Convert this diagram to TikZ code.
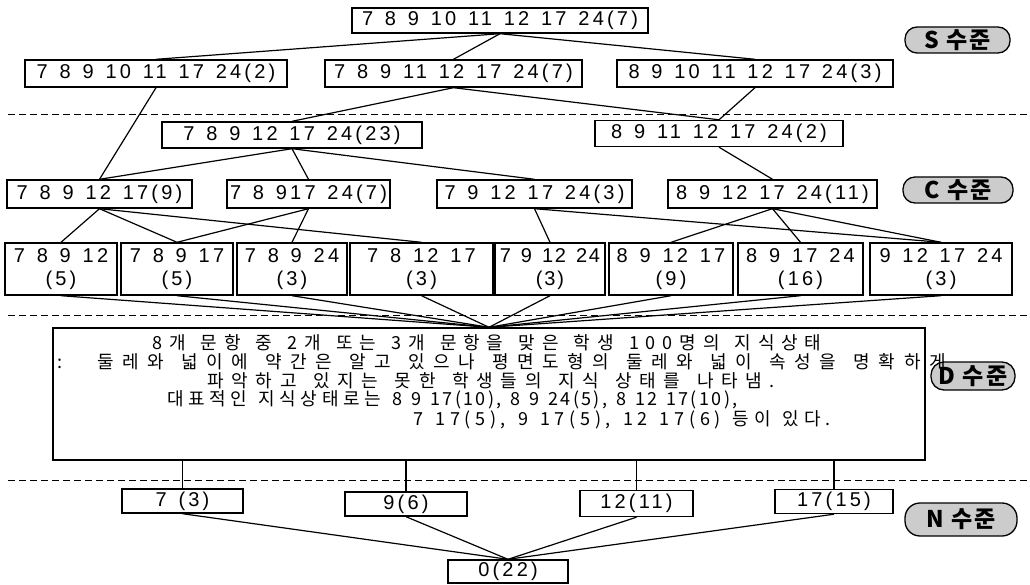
\documentclass[tikz,border=0pt]{standalone}
\usepackage{fontspec}
\setmainfont{Liberation Sans}
\newfontfamily\boxfont{Liberation Sans}[LetterSpace=16,WordSpace=1.35]
\newfontfamily\krfont{Noto Sans CJK KR}[WordSpace=1.4]
\newfontfamily\labfont{Noto Sans CJK KR}[LetterSpace=10]
\newcommand\krline[1]{\krfont\fontsize{18}{20}\selectfont\addfontfeature{LetterSpace=#1}}
\newcommand\tight[2]{{\addfontfeature{LetterSpace=#1}#2}}
\begin{document}
\begin{tikzpicture}[x=1pt,y=-1pt,
  bx/.style={draw, line width=1.4pt, inner sep=0pt, minimum height=26pt,
    font=\boxfont\fontsize{20}{23}\selectfont},
  bxx/.style={bx, minimum height=52pt, align=center},
  lvl/.style={draw, line width=1.3pt, rounded corners=12pt, fill=gray!40,
    inner sep=0pt, minimum height=26pt, font=\labfont\bfseries\fontsize{23}{24}\selectfont},
  lk/.style={line width=1.2pt},
  sep/.style={dash pattern=on 7pt off 4pt, line width=1pt},
  txt/.style={anchor=west, inner sep=0pt}
]
\useasboundingbox (0,0) rectangle (1030,585);

% separators
\coordinate (s1a) at (8,115);  \coordinate (s1b) at (1030,115);
\coordinate (s2a) at (8,315);  \coordinate (s2b) at (1030,315);
\coordinate (s3a) at (8,480);  \coordinate (s3b) at (1030,480);
\draw[sep] (s1a) -- (s1b);
\draw[sep] (s2a) -- (s2b);
\draw[sep] (s3a) -- (s3b);

% S level
\node[bx, minimum width=296pt, minimum height=25pt] (T) at (500,20.5) {7 8 9 10 11 12 17 24(7)};
\node[bx, minimum width=262pt, minimum height=27pt] (A1) at (156,73.5) {7 8 9 10 11 17 24(2)};
\node[bx, minimum width=257pt, minimum height=27pt] (A2) at (453.5,73.5) {7 8 9 11 12 17 24(7)};
\node[bx, minimum width=276pt, minimum height=27pt] (A3) at (755,73.5) {8 9 10 11 12 17 24(3)};

% C level
\node[bx, minimum width=260pt] (B1) at (292,135) {7 8 9 12 17 24(23)};
\node[bx, minimum width=248pt] (B2) at (719,133.5) {8 9 11 12 17 24(2)};
\node[bx, minimum width=185pt, minimum height=28pt] (C1) at (99.5,194) {7 8 9 12 17(9)};
\node[bx, minimum width=163pt, minimum height=28pt] (C2) at (308.5,194) {7 8 917 24(7)};
\node[bx, minimum width=195pt, minimum height=28pt] (C3) at (534.5,194) {7 9 12 17 24(3)};
\node[bx, minimum width=209pt, minimum height=28pt] (C4) at (772.5,194) {8 9 12 17 24(11)};
\node[bxx, minimum width=112pt] (D1) at (61,269) {7 8 9 12\\(5)};
\node[bxx, minimum width=112pt] (D2) at (177,269) {7 8 9 17\\(5)};
\node[bxx, minimum width=110pt] (D3) at (292,269) {7 8 9 24\\(3)};
\node[bxx, minimum width=143pt] (D4) at (421.5,269) {7 8 12 17\\(3)};
\node[bxx, minimum width=110pt, font=\boxfont\fontsize{20}{23}\selectfont\addfontfeature{LetterSpace=9}] (D5) at (550,269) {7 9 12 24\\(3)};
\node[bxx, minimum width=124pt] (D6) at (671,269) {8 9 12 17\\(9)};
\node[bxx, minimum width=125pt] (D7) at (800.5,269) {8 9 17 24\\(16)};
\node[bxx, minimum width=142pt] (D8) at (941,269) {9 12 17 24\\(3)};

% level labels
\node[lvl, minimum width=105pt] (LS) at (957.5,40) {S 수준};
\node[lvl, minimum width=110pt] (LC) at (958,190) {C 수준};
\node[lvl, minimum width=84pt, minimum height=28pt, rounded corners=13pt] (LD) at (973,376) {D 수준};
\node[lvl, minimum width=112pt, minimum height=33pt, rounded corners=15pt] (LN) at (961,519.5) {N 수준};

% D level box
\node[draw, line width=1.4pt, minimum width=872pt, minimum height=132pt, inner sep=0pt] (DB) at (489,394) {};
\node[txt, font=\krline{38}] (L1) at (152,343) {8개 문항 중 2개 또는 3개 문항을 맞은 학생 100명의 지식상태};
\node[txt, font=\krline{47}] (L2) at (57,362) {:\ \ 둘레와 넓이에 약간은 알고 있으나 평면도형의 둘레와 넓이 속성을 명확하게};
\node[txt, font=\krline{43}] (L3) at (207,381) {파악하고 있지는 못한 학생들의 지식 상태를 나타냄.};
\node[txt, font=\krline{25}] (L4) at (167,400) {대표적인 지식상태로는 \tight{13}{8 9 17(10), 8 9 24(5), 8 12 17(10),}};
\node[txt, font=\krline{26}] (L5) at (413,420) {7 17(5), 9 17(5), 12 17(6) 등이 있다.};

% N level
\node[bx, minimum width=121pt, minimum height=24pt] (N1) at (182.5,501) {7 (3)};
\node[bx, minimum width=122pt, minimum height=24pt] (N2) at (406,504) {9(6)};
\node[bx, minimum width=113pt, minimum height=26pt] (N3) at (636.5,503.5) {12(11)};
\node[bx, minimum width=118pt, minimum height=24pt] (N4) at (834,501.5) {17(15)};
\node[bx, minimum width=120pt, minimum height=23pt] (Z) at (508,571.5) {0(22)};

% connectors
\draw[lk] (T.south) -- (A1.north);
\draw[lk] (T.south) -- (A2.north);
\draw[lk] (T.south) -- (A3.north);
\draw[lk] (A1.south) -- (C1.north);
\draw[lk] (A2.south) -- (B1.north);
\draw[lk] (A2.south) -- (B2.north);
\draw[lk] (A3.south) -- (B2.north);
\draw[lk] (B1.south) -- (C1.north);
\draw[lk] (B1.south) -- (C2.north);
\draw[lk] (B1.south) -- (C3.north);
\draw[lk] (B2.south) -- (C4.north);
\draw[lk] (C1.south) -- (D1.north);
\draw[lk] (C1.south) -- (D2.north);
\draw[lk] (C1.south) -- (D4.north);
\draw[lk] (C2.south) -- (D2.north);
\draw[lk] (C2.south) -- (D3.north);
\draw[lk] (C3.south) -- (D5.north);
\draw[lk] (C3.south) -- (D8.north);
\draw[lk] (C4.south) -- (D6.north);
\draw[lk] (C4.south) -- (D7.north);
\draw[lk] (C4.south) -- (D8.north);
\foreach \n in {D1,D2,D3,D4,D5,D6,D7,D8} \draw[lk] (\n.south) -- (DB.north);
\foreach \n in {N1,N2,N3,N4} {
  \draw[lk] (\n.north |- DB.south) -- (\n.north);
  \draw[lk] (\n.south) -- (Z.north);
}
\end{tikzpicture}
\end{document}
